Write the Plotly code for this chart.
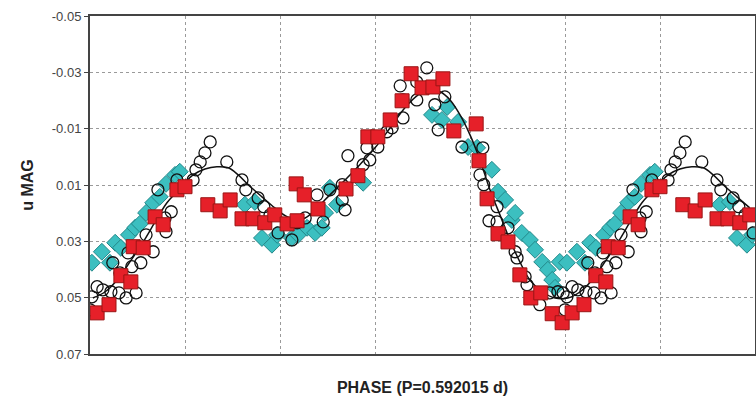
import numpy as np
import plotly.graph_objects as go

# One cycle of phased photometry (phase 0..1), replicated over -0.2..1.2
sq_phase = [0.000, 0.048, 0.074, 0.095, 0.120, 0.143, 0.168, 0.189, 0.215, 0.236,
            0.234, 0.251, 0.280, 0.339, 0.364, 0.385, 0.406, 0.432, 0.457, 0.476,
            0.499, 0.522, 0.543, 0.566, 0.613, 0.619, 0.636, 0.659, 0.680, 0.705,
            0.728, 0.749, 0.773, 0.794, 0.815, 0.840, 0.865, 0.886, 0.891, 0.912,
            0.937, 0.954, 0.983]
sq_mag = [0.0106, 0.0170, 0.0192, 0.0153, 0.0220, 0.0220, 0.0234, 0.0206, 0.0238, 0.0227,
          0.0096, 0.0135, 0.0185, 0.0114, 0.0067, -0.0071, -0.0071, -0.0131, -0.0199, -0.0295,
          -0.0245, -0.0248, -0.0277, -0.0092, -0.0117, 0.0014, 0.0149, 0.0273, 0.0302, 0.0419,
          0.0501, 0.0483, 0.0557, 0.0589, 0.0554, 0.0525, 0.0422, 0.0444, 0.0319, 0.0323,
          0.0213, 0.0241, 0.0117]

dm_phase = [0.126, 0.147, 0.162, 0.183, 0.194, 0.225, 0.238, 0.257, 0.274, 0.288,
            0.295, 0.305, 0.320, 0.375, 0.520, 0.541, 0.552, 0.575, 0.596, 0.615,
            0.646, 0.659, 0.674, 0.688, 0.695, 0.709, 0.726, 0.737, 0.752, 0.764,
            0.773, 0.779, 0.789, 0.804, 0.825, 0.842, 0.853, 0.865, 0.882, 0.895,
            0.905, 0.918, 0.933, 0.947, 0.960, 0.979, 0.989]
dm_mag = [0.0170, 0.0160, 0.0288, 0.0312, 0.0277, 0.0288, 0.0277, 0.0252, 0.0270, 0.0252,
          0.0199, 0.0110, 0.0170, 0.0092, -0.0149, -0.0131, -0.0177, -0.0124, -0.0035, -0.0032,
          0.0046, 0.0124, 0.0153, 0.0224, 0.0199, 0.0270, 0.0295, 0.0330, 0.0373, 0.0401,
          0.0437, 0.0465, 0.0373, 0.0376, 0.0337, 0.0376, 0.0305, 0.0323, 0.0277, 0.0252,
          0.0238, 0.0199, 0.0163, 0.0142, 0.0096, 0.0064, 0.0053]

ci_phase = [0.017, 0.023, 0.032, 0.042, 0.053, 0.088, 0.120, 0.128, 0.154, 0.166,
            0.179, 0.196, 0.225, 0.236, 0.253, 0.278, 0.291, 0.305, 0.331, 0.331,
            0.337, 0.343, 0.375, 0.389, 0.383, 0.406, 0.425, 0.436, 0.459, 0.453,
            0.459, 0.488, 0.488, 0.509, 0.526, 0.533, 0.547, 0.583, 0.627, 0.621,
            0.629, 0.640, 0.657, 0.657, 0.680, 0.695, 0.699, 0.716, 0.720, 0.747,
            0.768, 0.785, 0.796, 0.804, 0.815, 0.827, 0.844, 0.861, 0.876, 0.897,
            0.848, 0.863, 0.888, 0.907, 0.880, 0.933, 0.918, 0.960, 0.971, 0.943,
            0.958, 0.983, 0.800]
ci_mag = [0.0082, 0.0046, 0.0018, -0.0014, -0.0053, 0.0018, 0.0082, 0.0117, 0.0146, 0.0177,
          0.0206, 0.0270, 0.0295, 0.0234, 0.0217, 0.0135, 0.0231, 0.0117, 0.0099, 0.0153,
          0.0188, -0.0004, 0.0028, 0.0011, -0.0032, -0.0035, -0.0089, -0.0103, -0.0138, -0.0252,
          -0.0202, -0.0266, -0.0202, -0.0316, -0.0185, -0.0096, -0.0213, -0.0035, -0.0032, 0.0064,
          0.0099, 0.0227, 0.0231, 0.0177, 0.0252, 0.0337, 0.0359, 0.0426, 0.0454, 0.0525,
          0.0483, 0.0479, 0.0483, 0.0497, 0.0461, 0.0472, 0.0479, 0.0483, 0.0501, 0.0483,
          0.0376, 0.0412, 0.0390, 0.0376, 0.0341, 0.0337, 0.0277, 0.0266, 0.0195, 0.0117,
          0.0217, 0.0082, 0.0543]

fit_phase = [0.000, 0.017, 0.042, 0.067, 0.091, 0.112, 0.133, 0.162, 0.189, 0.211,
             0.232, 0.253, 0.274, 0.305, 0.337, 0.368, 0.400, 0.432, 0.463, 0.491,
             0.516, 0.537, 0.558, 0.579, 0.600, 0.621, 0.642, 0.663, 0.684, 0.705,
             0.726, 0.752, 0.779, 0.806, 0.832, 0.857, 0.884, 0.912, 0.937, 0.962,
             0.983]
fit_mag = [0.0092, 0.0064, 0.0043, 0.0035, 0.0039, 0.0064, 0.0099, 0.0142, 0.0181, 0.0209,
           0.0224, 0.0217, 0.0188, 0.0135, 0.0082, 0.0028, -0.0032, -0.0103, -0.0174, -0.0220,
           -0.0238, -0.0231, -0.0202, -0.0149, -0.0078, 0.0011, 0.0117, 0.0206, 0.0295, 0.0373,
           0.0437, 0.0479, 0.0501, 0.0501, 0.0479, 0.0437, 0.0373, 0.0302, 0.0231, 0.0163,
           0.0124]

X_MIN, X_MAX = -0.2, 1.2
y_ticks = [-0.05, -0.03, -0.01, 0.01, 0.03, 0.05, 0.07]
y_tick_text = ["-0.05", "-0.03", "-0.01", "0.01", "0.03", "0.05", "0.07"]
x_grid = [0.0, 0.2, 0.4, 0.6, 0.8, 1.0]


def extend(ph, mg):
    ph = np.asarray(ph, float)
    mg = np.asarray(mg, float)
    xs = np.concatenate([ph - 1, ph, ph + 1])
    ys = np.concatenate([mg, mg, mg])
    keep = (xs >= X_MIN - 1e-9) & (xs <= X_MAX + 1e-9)
    xs, ys = xs[keep], ys[keep]
    order = np.argsort(xs, kind="stable")
    return xs[order], ys[order]


sx, sy = extend(sq_phase, sq_mag)
dx, dy = extend(dm_phase, dm_mag)
cx, cy = extend(ci_phase, ci_mag)
fx, fy = extend(fit_phase, fit_mag)

fig = go.Figure()
fig.add_trace(go.Scatter(x=dx, y=dy, mode="markers",
                         marker=dict(symbol="diamond", size=13, color="#3cbfc0",
                                     line=dict(color="#23888a", width=1)),
                         showlegend=False))
fig.add_trace(go.Scatter(x=cx, y=cy, mode="markers",
                         marker=dict(symbol="circle-open", size=12, color="#111111",
                                     line=dict(color="#111111", width=1.3)),
                         showlegend=False))
fig.add_trace(go.Scatter(x=fx, y=fy, mode="lines",
                         line=dict(color="#111111", width=1.5, shape="spline"),
                         showlegend=False))
fig.add_trace(go.Scatter(x=sx, y=sy, mode="markers",
                         marker=dict(symbol="square", size=14, color="#e62029",
                                     line=dict(color="#9a1515", width=1)),
                         showlegend=False))

fig.update_layout(
    width=756, height=404,
    margin=dict(l=90, r=1, t=16, b=50),
    paper_bgcolor="white", plot_bgcolor="white",
    font=dict(family="Liberation Sans, Arial, sans-serif", color="#333333"),
)
fig.update_xaxes(
    range=[X_MIN, X_MAX], tickvals=x_grid, showticklabels=False, ticks="",
    showgrid=True, gridcolor="#9a9a9a", griddash="dot", gridwidth=1,
    showline=True, linecolor="#444444", linewidth=2, mirror=True, zeroline=False,
    automargin=False,
    title=dict(text="<b>PHASE (P=0.592015 d)</b>", font=dict(size=16, color="#222222"), standoff=27),
)
fig.update_yaxes(
    range=[0.07, -0.05], tickvals=y_ticks, ticktext=y_tick_text,
    ticks="outside", ticklen=4, tickcolor="#444444",
    tickfont=dict(size=13, color="#444444"),
    showgrid=True, gridcolor="#9a9a9a", griddash="dot", gridwidth=1,
    showline=True, linecolor="#444444", linewidth=2, mirror=True, zeroline=False,
    automargin=False,
    title=dict(text="<b>u MAG</b>", font=dict(size=16, color="#222222"), standoff=14),
)

fig.write_html("out.html", config={"displayModeBar": False},
               post_script="document.body.style.margin='0px';document.body.style.overflow='hidden';")
